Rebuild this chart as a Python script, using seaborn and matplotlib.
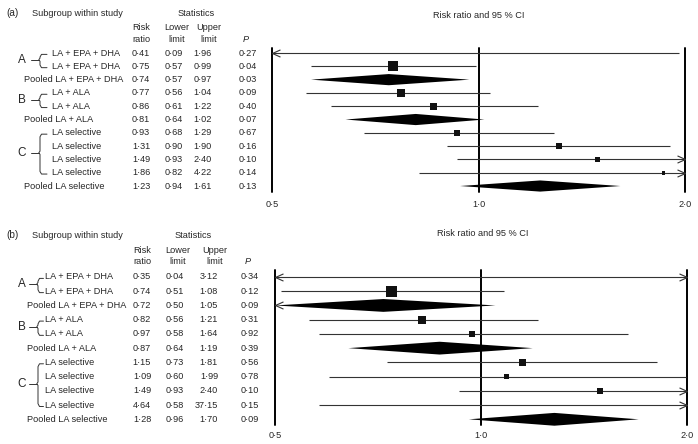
import matplotlib
matplotlib.use('Agg')
import matplotlib.pyplot as plt
import matplotlib.transforms as mtransforms
from matplotlib.path import Path
from matplotlib.ticker import NullLocator
import seaborn as sns

sns.set_style('white')
plt.rcParams['font.family'] = ['Liberation Sans', 'DejaVu Sans']

# ---- data ----
labels = ['LA + EPA + DHA', 'LA + EPA + DHA', 'Pooled LA + EPA + DHA',
          'LA + ALA', 'LA + ALA', 'Pooled LA + ALA',
          'LA selective', 'LA selective', 'LA selective', 'LA selective',
          'Pooled LA selective']
pooled = [False, False, True, False, False, True, False, False, False, False, True]
groups = [('A', 0, 1), ('B', 3, 4), ('C', 6, 9)]

rr_a = [0.41, 0.75, 0.74, 0.77, 0.86, 0.81, 0.93, 1.31, 1.49, 1.86, 1.23]
lo_a = [0.09, 0.57, 0.57, 0.56, 0.61, 0.64, 0.68, 0.90, 0.93, 0.82, 0.94]
hi_a = [1.96, 0.99, 0.97, 1.04, 1.22, 1.02, 1.29, 1.90, 2.40, 4.22, 1.61]
p_a = [0.27, 0.04, 0.03, 0.09, 0.40, 0.07, 0.67, 0.16, 0.10, 0.14, 0.13]
wt_a = [4.0, 7.2, 0, 5.8, 5.0, 0, 4.3, 4.3, 3.6, 2.7, 0]  # square side (pt)

rr_b = [0.35, 0.74, 0.72, 0.82, 0.97, 0.87, 1.15, 1.09, 1.49, 4.64, 1.28]
lo_b = [0.04, 0.51, 0.50, 0.56, 0.58, 0.64, 0.73, 0.60, 0.93, 0.58, 0.96]
hi_b = [3.12, 1.08, 1.05, 1.21, 1.64, 1.19, 1.81, 1.99, 2.40, 37.15, 1.70]
p_b = [0.34, 0.12, 0.09, 0.31, 0.92, 0.39, 0.56, 0.78, 0.10, 0.15, 0.09]
wt_b = [3.0, 7.7, 0, 6.0, 4.3, 0, 5.0, 3.5, 4.3, 3.0, 0]

ticks = [0.5, 1.0, 2.0]
tick_labels = ['0·5', '1·0', '2·0']

W, H = 698, 444
FS = 6.6
LINE = '#333333'

fig = plt.figure(figsize=(W / 100, H / 100), dpi=100)


def px(x):
    return x / W


def py(y):
    return 1 - y / H


def fmt(v):
    return f'{v:.2f}'.replace('.', '·')


chev_r = Path([(-1, 0.45), (0, 0), (-1, -0.45)], [Path.MOVETO, Path.LINETO, Path.LINETO])
chev_l = Path([(1, 0.45), (0, 0), (1, -0.45)], [Path.MOVETO, Path.LINETO, Path.LINETO])


def panel(rect, ylim, rr, lo, hi, p, wt, cfg):
    ax = fig.add_axes(rect)
    ax.set_xscale('log')
    ax.set_xlim(0.5, 2.0)
    ax.set_ylim(*ylim)
    ax.patch.set_alpha(0)
    rows = list(range(len(rr)))

    for x in ticks:
        ax.axvline(x, color='black', lw=1.4, clip_on=False, zorder=1)

    for i in rows:
        x0, x1 = max(lo[i], 0.5), min(hi[i], 2.0)
        if pooled[i]:
            h = cfg['dh']
            ax.fill([x0, rr[i], x1, rr[i]], [i, i - h, i, i + h],
                    color='black', lw=0, zorder=3, clip_on=False)
        else:
            ax.hlines(i, x0, x1, color=LINE, lw=0.8, zorder=2, clip_on=False)
        if lo[i] <= 0.5:
            ax.plot([0.5], [i], marker=chev_l, ms=11.5, mfc='none', mec=LINE,
                    mew=0.8, clip_on=False, zorder=4)
        if hi[i] > 2.0:
            ax.plot([2.0], [i], marker=chev_r, ms=11.5, mfc='none', mec=LINE,
                    mew=0.8, clip_on=False, zorder=4)

    # study squares, sized by weight
    sq = [i for i in rows if not pooled[i] and 0.5 <= rr[i] <= 2.0]
    areas = [wt[i] ** 2 for i in sq]
    sns.scatterplot(x=[rr[i] for i in sq], y=sq, size=areas,
                    sizes=(min(areas), max(areas)),
                    size_norm=(min(areas), max(areas)),
                    marker='s', color='#111111', edgecolor='none', linewidth=0,
                    legend=False, ax=ax, zorder=5, clip_on=False)

    ax.set_yticks([])
    ax.set_xticks(ticks)
    ax.set_xticklabels(tick_labels)
    ax.xaxis.set_minor_locator(NullLocator())
    ax.tick_params(axis='x', length=0, pad=cfg['pad'], labelsize=FS)
    ax.set_xlabel('')
    ax.set_ylabel('')
    sns.despine(ax=ax, left=True, bottom=True)

    # table on the left
    tr = mtransforms.blended_transform_factory(fig.transFigure, ax.transData)
    for i in rows:
        x = cfg['pool_x'] if pooled[i] else cfg['sub_x']
        fig.text(px(x), i, labels[i], transform=tr, ha='left', va='center', fontsize=FS)
        fig.text(px(cfg['rr_x']), i, fmt(rr[i]), transform=tr, ha='center', va='center', fontsize=FS)
        fig.text(px(cfg['lo_x']), i, fmt(lo[i]), transform=tr, ha='center', va='center', fontsize=FS)
        fig.text(px(cfg['hi_x']), i, fmt(hi[i]), transform=tr, ha='right', va='center', fontsize=FS)
        fig.text(px(cfg['p_x']), i, fmt(p[i]), transform=tr, ha='center', va='center', fontsize=FS)

    # group braces
    bx, hx, dx = cfg['brace_x'], cfg['hook_x'], cfg['dash_x']
    for name, r0, r1 in groups:
        mid = (r0 + r1) / 2
        fig.text(px(21.5), mid, name, transform=tr, ha='center', va='center', fontsize=8.5)
        xs = [px(hx), px(bx + 1.5), px(bx), px(bx), px(bx - 1.2), px(bx), px(bx), px(bx + 1.5), px(hx)]
        ys = [r0 + 0.1, r0 + 0.1, r0 + 0.3, mid - 0.12, mid, mid + 0.12, r1 - 0.1, r1 + 0.1, r1 + 0.1]
        fig.add_artist(plt.Line2D(xs, ys, transform=tr, color=LINE, lw=0.7))
        fig.add_artist(plt.Line2D([px(dx), px(bx - 1.2)], [mid, mid], transform=tr, color=LINE, lw=0.7))

    # headers
    hy = cfg['head_y']
    fig.text(px(6), py(hy), cfg['tag'], ha='left', va='center', fontsize=7.2)
    fig.text(px(32), py(hy), 'Subgroup within study', ha='left', va='center', fontsize=FS)
    fig.text(px(cfg['stat_x']), py(hy), 'Statistics', ha='center', va='center', fontsize=FS)
    for x, t1, t2 in [(cfg['rr_x'], 'Risk', 'ratio'), (cfg['lo_x'] + 3, 'Lower', 'limit'),
                      (cfg['hi_x'] - 3, 'Upper', 'limit')]:
        fig.text(px(x), py(cfg['r1_y']), t1, ha='center', va='center', fontsize=FS)
        fig.text(px(x), py(cfg['r2_y']), t2, ha='center', va='center', fontsize=FS)
    fig.text(px(cfg['p_x'] - 2), py(cfg['r2_y']), 'P', ha='center', va='center',
             fontsize=FS, style='italic')
    fig.text(px(cfg['title_x']), py(cfg['title_y']), 'Risk ratio and 95 % CI',
             ha='center', va='center', fontsize=FS)
    return ax


# panel (a): rows at y=53..186 px, axes from 48 to 192 px
cfg_a = dict(tag='(a)', dh=0.42, pad=6.0, sub_x=52, pool_x=24, rr_x=141, lo_x=174,
             hi_x=212, p_x=248, brace_x=40, hook_x=47, dash_x=31, head_y=13,
             stat_x=196, r1_y=28, r2_y=39, title_x=479, title_y=15.5)
panel([px(272), py(192), px(685) - px(272), py(48) - py(192)], (10.45, -0.38),
      rr_a, lo_a, hi_a, p_a, wt_a, cfg_a)

# panel (b): rows at y=277..419 px, axes from 270 to 425 px
cfg_b = dict(tag='(b)', dh=0.45, pad=4.0, sub_x=45, pool_x=27, rr_x=142, lo_x=175,
             hi_x=218, p_x=250, brace_x=38, hook_x=43.5, dash_x=29, head_y=235,
             stat_x=193, r1_y=250, r2_y=261, title_x=483, title_y=234)
panel([px(275), py(425), px(687) - px(275), py(270) - py(425)], (10.4, -0.49),
      rr_b, lo_b, hi_b, p_b, wt_b, cfg_b)

fig.savefig('out.png', dpi=100)
